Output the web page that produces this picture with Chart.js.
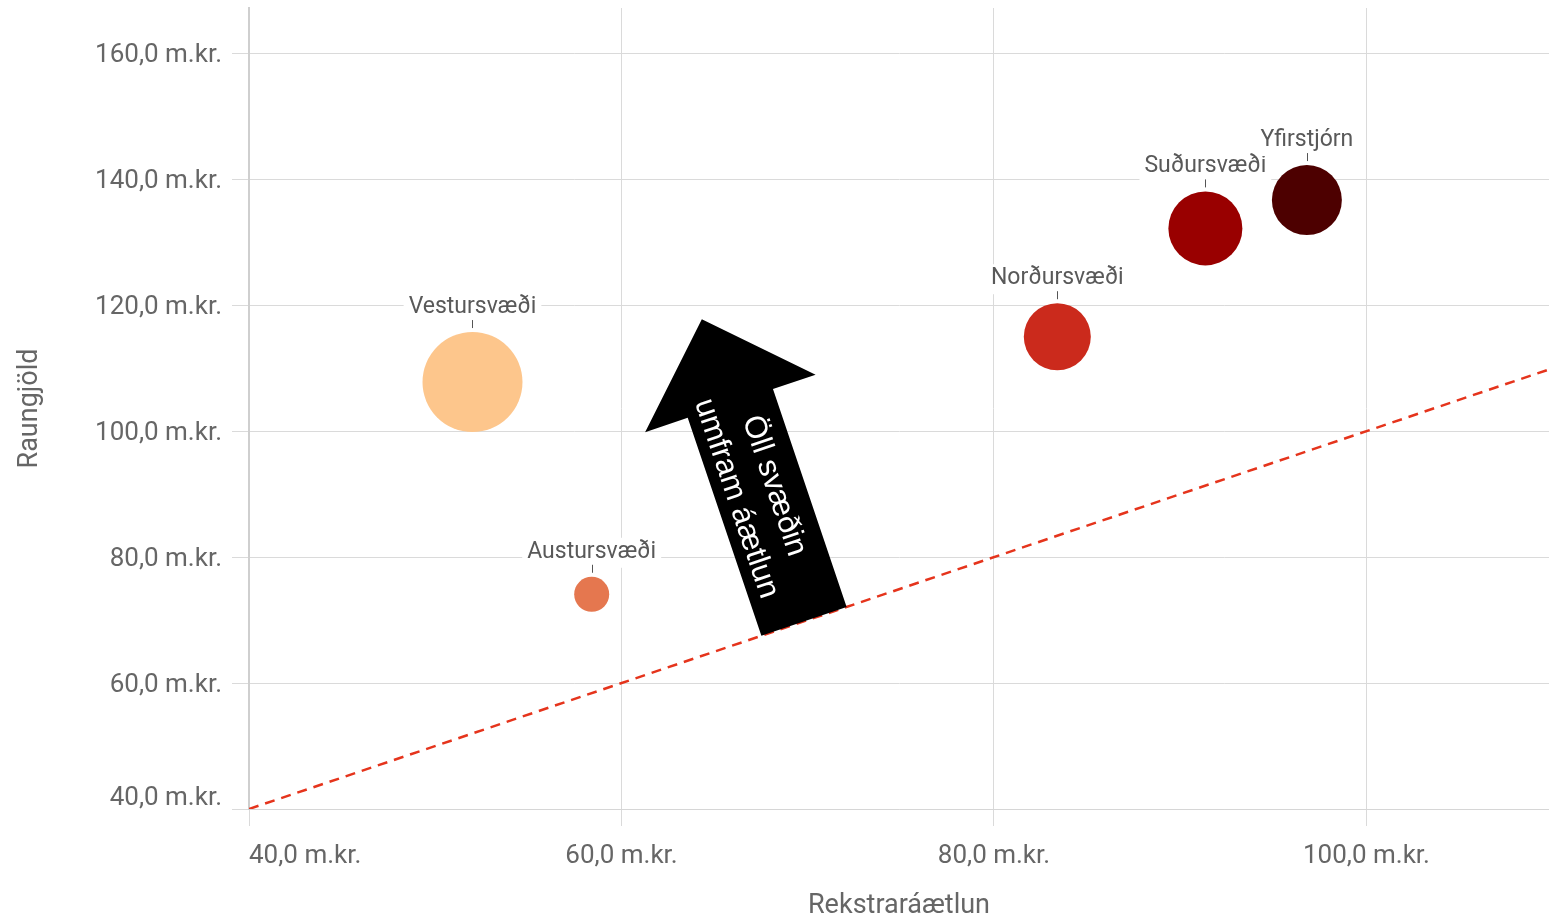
<!DOCTYPE html>
<html>
<head>
<meta charset="utf-8">
<script src="https://cdn.jsdelivr.net/npm/chart.js@4.4.1/dist/chart.umd.min.js"></script>
<style>
html,body{margin:0;padding:0;background:#fff;overflow:hidden}
#wrap{width:1549px;height:922px;position:relative}
</style>
</head>
<body>
<div id="wrap"><canvas id="c"></canvas></div>
<script>
// ---- data ----
const regions = ['Vestursvæði', 'Austursvæði', 'Norðursvæði', 'Suðursvæði', 'Yfirstjórn'];
const rekstraraaetlun = [52.0, 58.4, 83.4, 91.35, 96.8];   // x (m.kr.)
const raungjold = [107.8, 74.1, 115.0, 132.2, 136.7];      // y (m.kr.)
const bubbleRadius = [50, 17.5, 33.5, 37, 35];
const regionColors = ['#fdc68c', '#e5774f', '#cb2a1c', '#990000', '#4d0000'];
const xTickValues = [40, 60, 80, 100];
const yTickValues = [40, 60, 80, 100, 120, 140, 160];
const parityLine = [40, 110];
const arrowText = ['Öll svæðin', 'umfram áætlun'];
const arrowAnchor = 69.8;

const fmt = v => v.toFixed(1).replace('.', ',') + ' m.kr.';

const edgeLabelPlugin = {
  id: 'edgeLabels',
  beforeDraw(chart) {
    const xs = chart.scales.x, ys = chart.scales.y;
    const xi = xs.getLabelItems(chart.chartArea);
    if (xi.length) xi[0].options.textAlign = 'left';
    const yi = ys.getLabelItems(chart.chartArea);
    yi.forEach((it, i) => {
      const p = ys.getPixelForValue(yTickValues[i]);
      it.options.translation[1] = i === 0 ? p - 11 : p + 2;
    });
  }
};

const arrowPlugin = {
  id: 'arrowNote',
  afterDatasetsDraw(chart) {
    const {ctx} = chart;
    const xs = chart.scales.x, ys = chart.scales.y;
    const p0x = xs.getPixelForValue(parityLine[0]), p0y = ys.getPixelForValue(parityLine[0]);
    const p1x = xs.getPixelForValue(parityLine[1]), p1y = ys.getPixelForValue(parityLine[1]);
    let dx = p1x - p0x, dy = p1y - p0y;
    const len = Math.hypot(dx, dy); dx /= len; dy /= len;
    const n = {x: dx, y: dy};
    const a = {x: dy, y: -dx};
    const B = {x: xs.getPixelForValue(arrowAnchor), y: ys.getPixelForValue(arrowAnchor)};
    const pt = (u, v) => [B.x + a.x * u + n.x * v, B.y + a.y * u + n.y * v];
    const shaftLen = 230, shaftHalf = 45, headHalf = 90, tipLen = 319;
    ctx.save();
    ctx.beginPath();
    ctx.moveTo(...pt(0, -shaftHalf));
    ctx.lineTo(...pt(shaftLen, -shaftHalf));
    ctx.lineTo(...pt(shaftLen, -headHalf));
    ctx.lineTo(...pt(tipLen, 0));
    ctx.lineTo(...pt(shaftLen, headHalf));
    ctx.lineTo(...pt(shaftLen, shaftHalf));
    ctx.lineTo(...pt(0, shaftHalf));
    ctx.closePath();
    ctx.fillStyle = '#000';
    ctx.fill();
    const C = pt(138, -5);
    ctx.translate(C[0], C[1]);
    ctx.rotate(Math.atan2(-a.y, -a.x));
    ctx.fillStyle = '#fff';
    ctx.font = '31px "Liberation Sans", Arial, sans-serif';
    ctx.textAlign = 'center';
    ctx.textBaseline = 'middle';
    ctx.fillText(arrowText[0], 0, -20);
    ctx.fillText(arrowText[1], 0, 20);
    ctx.restore();
  }
};

const labelPlugin = {
  id: 'bubbleLabels',
  afterDatasetsDraw(chart) {
    const {ctx} = chart;
    const meta = chart.getDatasetMeta(1);
    ctx.save();
    ctx.font = '23px Roboto';
    ctx.textAlign = 'center';
    ctx.textBaseline = 'middle';
    meta.data.forEach((el, i) => {
      const r = el.options.radius;
      const top = el.y - r;
      const ly = top - 25;
      const w = ctx.measureText(regions[i]).width + 10;
      ctx.fillStyle = '#fff';
      ctx.fillRect(el.x - w / 2, ly - 14, w, 30);
      ctx.strokeStyle = '#555';
      ctx.lineWidth = 1;
      const lx = Math.round(el.x) + 0.5;
      ctx.beginPath();
      ctx.moveTo(lx, top - 12);
      ctx.lineTo(lx, top - 4);
      ctx.stroke();
      ctx.fillStyle = '#595959';
      ctx.fillText(regions[i], el.x, ly);
    });
    ctx.restore();
  }
};

new Chart(document.getElementById('c'), {
  type: 'bubble',
  data: {
    datasets: [
      {
        type: 'line',
        data: parityLine.map(v => ({x: v, y: v})),
        borderColor: '#e5341c',
        borderWidth: 2.5,
        borderDash: [10, 7],
        pointRadius: 0,
        fill: false,
        order: 2
      },
      {
        data: regions.map((r, i) => ({x: rekstraraaetlun[i], y: raungjold[i], r: bubbleRadius[i]})),
        backgroundColor: regionColors,
        borderWidth: 0,
        hoverRadius: 0,
        order: 1
      }
    ]
  },
  options: {
    responsive: true,
    maintainAspectRatio: false,
    animation: false,
    events: [],
    layout: {autoPadding: false, padding: {top: 8, right: 0, left: 0, bottom: 0}},
    plugins: {legend: {display: false}, tooltip: {enabled: false}},
    scales: {
      x: {
        type: 'linear',
        min: 40,
        max: 109.8,
        afterBuildTicks: s => { s.ticks = xTickValues.map(v => ({value: v})); },
        afterFit: s => { s.height = 113; s.paddingLeft = 0; s.paddingRight = 0; },
        grid: {color: '#dadada', lineWidth: 1, tickLength: 17, tickColor: '#dadada', drawTicks: true},
        border: {display: true, color: '#d6d6d6', width: 1},
        ticks: {callback: fmt, color: '#666', font: {family: 'Roboto', size: 26}, padding: 15, maxRotation: 0, autoSkip: false},
        title: {display: true, text: 'Rekstraráætlun', color: '#666', font: {family: 'Roboto', size: 27}, padding: {top: 0, bottom: 0}}
      },
      y: {
        type: 'linear',
        min: 40,
        max: 167.2,
        afterBuildTicks: s => { s.ticks = yTickValues.map(v => ({value: v})); },
        afterFit: s => { s.width = 249; s.paddingTop = 0; s.paddingBottom = 0; },
        grid: {color: '#dadada', lineWidth: 1, tickLength: 17, tickColor: '#dadada', drawTicks: true},
        border: {display: true, color: '#cfcfcf', width: 2},
        ticks: {callback: fmt, color: '#666', font: {family: 'Roboto', size: 26}, padding: 10, autoSkip: false},
        title: {display: true, text: 'Raungjöld', color: '#666', font: {family: 'Roboto', size: 27}, padding: {top: 14, bottom: 0}}
      }
    }
  },
  plugins: [edgeLabelPlugin, arrowPlugin, labelPlugin]
});
</script>
</body>
</html>
